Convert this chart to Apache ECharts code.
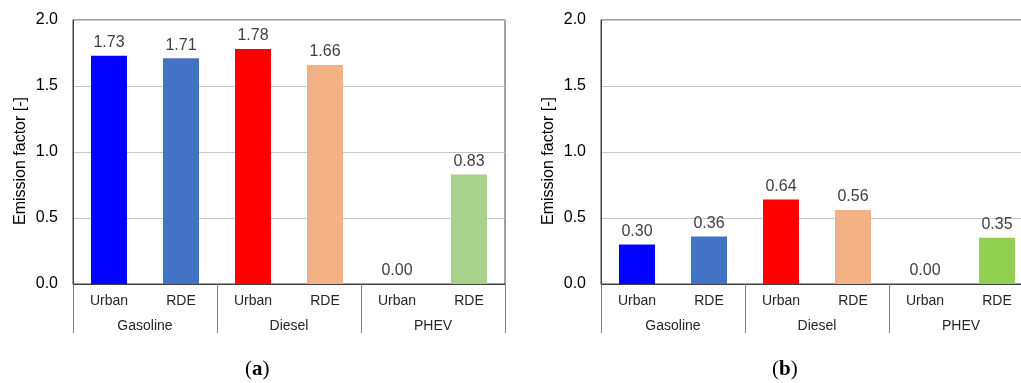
<!DOCTYPE html>
<html>
<head>
<meta charset="utf-8">
<style>
  html, body { margin: 0; padding: 0; background: #fff; overflow: hidden; }
  #chart { width: 1040px; height: 383px; }
</style>
<script src="https://cdn.jsdelivr.net/npm/echarts@6/dist/echarts.min.js"></script>
</head>
<body>
<div id="chart"></div>
<script>
// Test cycles within each vehicle group, and the vehicle groups themselves
const cycles = ['Urban', 'RDE', 'Urban', 'RDE', 'Urban', 'RDE'];
const groups = ['Gasoline', 'Diesel', 'PHEV'];
const yTicks = [0, 0.5, 1.0, 1.5, 2.0];

// Emission factors per bar, panel (a) and panel (b)
const valuesA = [1.73, 1.71, 1.78, 1.66, 0.00, 0.83];
const valuesB = [0.30, 0.36, 0.64, 0.56, 0.00, 0.35];

// Bar fills per panel
const coloursA = ['#0000FF', '#4472C4', '#FF0000', '#F4B183', '#A9D18E', '#A9D18E'];
const coloursB = ['#0000FF', '#4472C4', '#FF0000', '#F4B183', '#92D050', '#92D050'];

const FONT = '"Liberation Sans", Arial, sans-serif';
const SERIF = '"Liberation Serif", "DejaVu Serif", serif';

function xAxesFor(gridIndex) {
  return [
    {
      gridIndex, type: 'category', data: cycles,
      axisLine: { show: true, lineStyle: { color: '#404040', width: 1 } },
      axisTick: { show: false },
      axisLabel: { interval: 0, margin: 10, fontSize: 14, color: '#262626', fontFamily: FONT }
    },
    {
      gridIndex, type: 'category', data: groups, position: 'bottom',
      axisLine: { show: false },
      axisTick: { show: true, length: 49, lineStyle: { color: '#7f7f7f', width: 1 } },
      axisLabel: { interval: 0, margin: 35, fontSize: 14, color: '#262626', fontFamily: FONT },
      splitLine: { show: false }
    }
  ];
}

function yAxisFor(gridIndex) {
  return {
    gridIndex, type: 'value',
    min: yTicks[0], max: yTicks[yTicks.length - 1], interval: 0.5,
    name: 'Emission factor [-]', nameLocation: 'middle', nameGap: 44,
    nameTextStyle: { fontSize: 16, color: '#000', fontFamily: FONT, padding: [0, 18, 0, 0] },
    axisLine: { show: true, lineStyle: { color: '#404040', width: 1 } },
    axisTick: { show: false },
    axisLabel: {
      margin: 15, fontSize: 16, color: '#000', fontFamily: FONT,
      formatter: v => v.toFixed(1)
    },
    splitLine: { show: true, lineStyle: { color: '#c8c8c8', width: 1 } }
  };
}

function seriesFor(index, values, colours) {
  return {
    type: 'bar', xAxisIndex: index * 2, yAxisIndex: index,
    barWidth: '50%',
    data: values.map((v, i) => ({ value: v, itemStyle: { color: colours[i] } })),
    label: {
      show: true, position: 'top', distance: 5,
      fontSize: 16, color: '#404040', fontFamily: FONT,
      formatter: p => p.value.toFixed(2)
    },
    silent: true
  };
}

function caption(letter, x) {
  return {
    type: 'text', left: x, top: 359,
    style: {
      text: '({l|' + letter + '})', fontSize: 21, fontFamily: SERIF,
      fill: '#000', align: 'center',
      rich: { l: { fontSize: 21, fontWeight: 'bold', fontFamily: SERIF } }
    }
  };
}

const chart = echarts.init(document.getElementById('chart'), null, { renderer: 'canvas' });
chart.setOption({
  animation: false,
  backgroundColor: '#fff',
  grid: [
    { left: 73, top: 20, width: 432, bottom: 99, show: true, borderColor: '#404040', borderWidth: 1, backgroundColor: 'transparent' },
    { left: 601, top: 20, width: 432, bottom: 99, show: true, borderColor: '#404040', borderWidth: 1, backgroundColor: 'transparent' }
  ],
  xAxis: [...xAxesFor(0), ...xAxesFor(1)],
  yAxis: [yAxisFor(0), yAxisFor(1)],
  series: [seriesFor(0, valuesA, coloursA), seriesFor(1, valuesB, coloursB)],
  graphic: [caption('a', 245), caption('b', 772)]
});
</script>
</body>
</html>
